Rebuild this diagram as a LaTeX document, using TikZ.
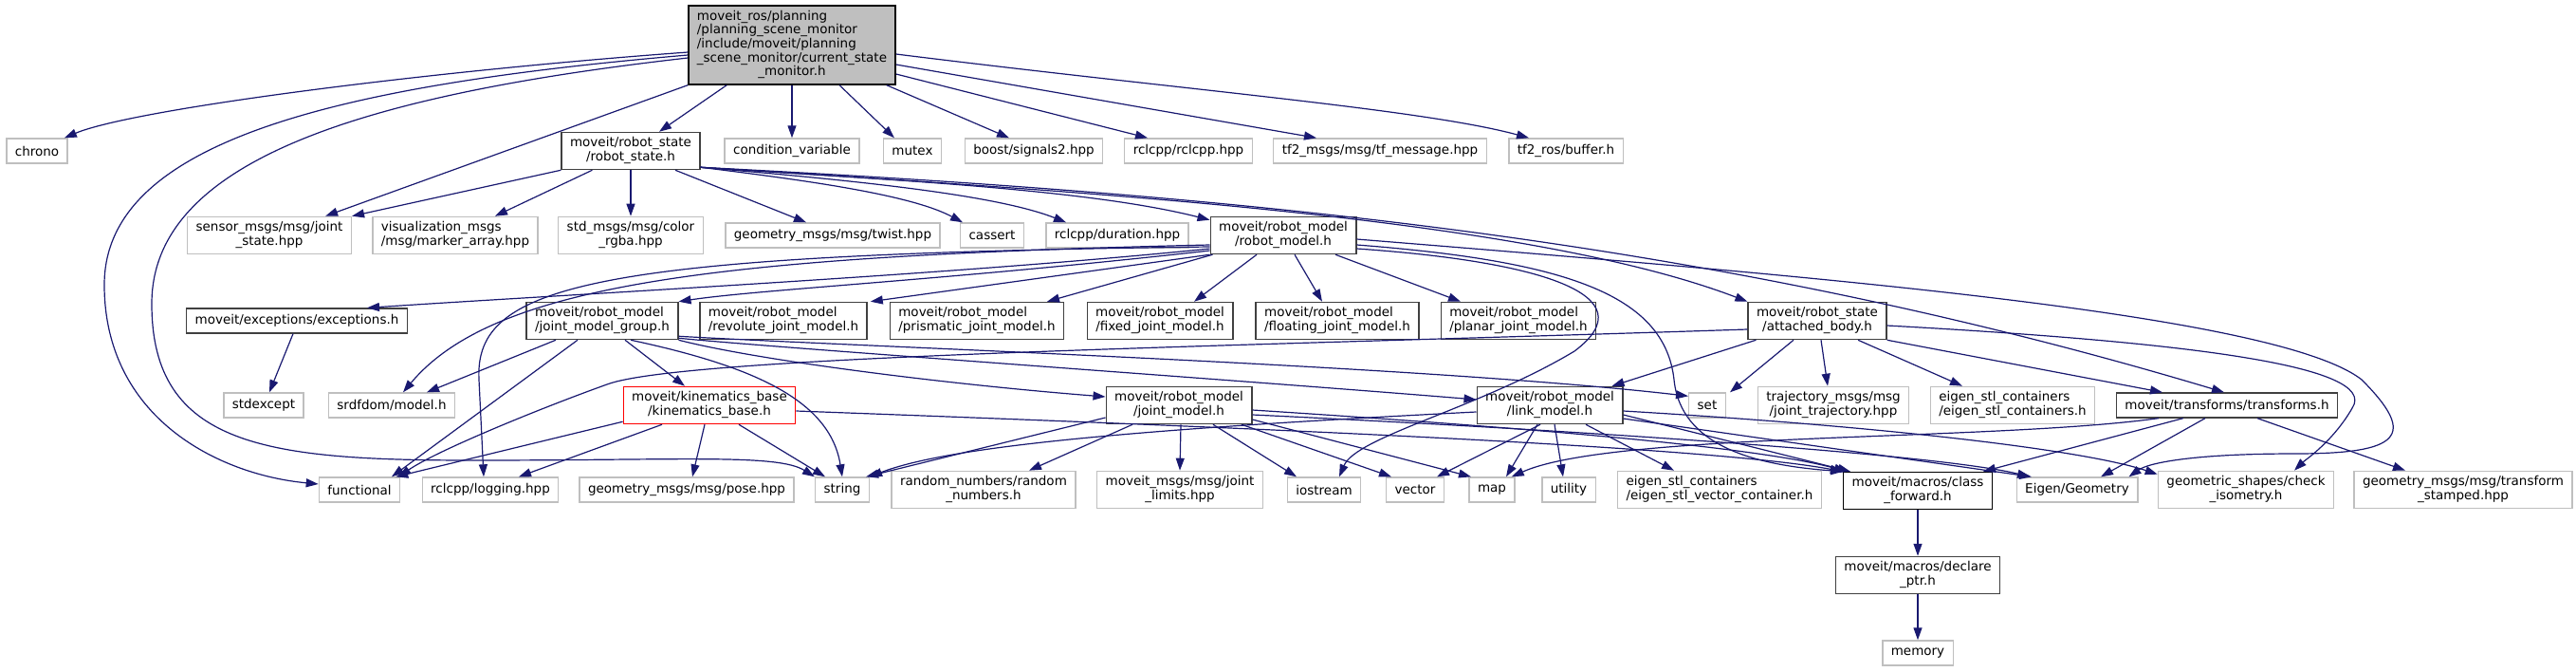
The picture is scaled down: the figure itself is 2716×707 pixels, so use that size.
\documentclass[tikz,border=0pt]{standalone}
\usepackage{fontspec}
\setmainfont{DejaVu Sans}
\usetikzlibrary{arrows.meta}
\definecolor{edgeblue}{RGB}{25,25,112}
\definecolor{extgray}{RGB}{191,191,191}
\definecolor{owngray}{RGB}{64,64,64}
\definecolor{curgray}{RGB}{191,191,191}
\definecolor{kinred}{RGB}{255,0,0}
% first lines left, last line centred (as graphviz \l)
\newcommand{\inclab}[2]{\begin{tabular}{@{}l@{}}#1\\\multicolumn{1}{@{}c@{}}{#2}\end{tabular}}

\begin{document}
\begin{tikzpicture}[x=1pt, y=-1pt,
  every node/.style={font=\fontsize{13.5}{14.5}\selectfont},
  ext/.style={draw=extgray, line width=1.4pt, fill=white, inner xsep=9pt, inner ysep=5pt, minimum height=26pt},
  own/.style={ext, draw=owngray, line width=1.3pt},
  cur/.style={own, draw=black, fill=curgray},
  kinbox/.style={ext, draw=kinred, line width=1.3pt},
  dep/.style={draw=edgeblue, line width=1.2pt, -{Triangle[length=13pt,width=9pt]}}]
 \useasboundingbox (0,0) rectangle (2716,707);

 % file itself
 \node[cur] (csm) at (835,47.5) {\inclab{moveit\_ros/planning\\/planning\_scene\_monitor\\/include/moveit/planning\\\_scene\_monitor/current\_state}{\_monitor.h}};

 % row 2
 \node[ext] (chrono) at (39,159) {chrono};
 \node[own] (rstate) at (665,159) {\inclab{moveit/robot\_state}{/robot\_state.h}};
 \node[ext] (condvar) at (835,159) {condition\_variable};
 \node[ext] (mutex) at (962,159) {mutex};
 \node[ext] (signals) at (1090,159) {boost/signals2.hpp};
 \node[ext] (rclcpp) at (1253,159) {rclcpp/rclcpp.hpp};
 \node[ext] (tfmsg) at (1455,159) {tf2\_msgs/msg/tf\_message.hpp};
 \node[ext] (tfbuf) at (1651,159) {tf2\_ros/buffer.h};

 % row 3
 \node[ext] (sensor) at (284,248) {\inclab{sensor\_msgs/msg/joint}{\_state.hpp}};
 \node[ext] (vis) at (480,248) {\inclab{visualization\_msgs}{/msg/marker\_array.hpp}};
 \node[ext] (rgba) at (665,248) {\inclab{std\_msgs/msg/color}{\_rgba.hpp}};
 \node[ext] (twist) at (878,248) {geometry\_msgs/msg/twist.hpp};
 \node[ext] (cassert) at (1046,248) {cassert};
 \node[ext] (duration) at (1178,248) {rclcpp/duration.hpp};
 \node[own] (rmodel) at (1353,248) {\inclab{moveit/robot\_model}{/robot\_model.h}};

 % row 4
 \node[own] (exc) at (313,338) {moveit/exceptions/exceptions.h};
 \node[own] (jmg) at (635,338) {\inclab{moveit/robot\_model}{/joint\_model\_group.h}};
 \node[own] (revolute) at (826,338) {\inclab{moveit/robot\_model}{/revolute\_joint\_model.h}};
 \node[own] (prismatic) at (1030,338) {\inclab{moveit/robot\_model}{/prismatic\_joint\_model.h}};
 \node[own] (fixed) at (1223,338) {\inclab{moveit/robot\_model}{/fixed\_joint\_model.h}};
 \node[own] (floating) at (1410,338) {\inclab{moveit/robot\_model}{/floating\_joint\_model.h}};
 \node[own] (planar) at (1601,338) {\inclab{moveit/robot\_model}{/planar\_joint\_model.h}};
 \node[own] (attached) at (1916,338) {\inclab{moveit/robot\_state}{/attached\_body.h}};

 % row 5
 \node[ext] (stdexcept) at (278,427) {stdexcept};
 \node[ext] (srdf) at (413,427) {srdfdom/model.h};
 \node[kinbox] (kin) at (748,427) {\inclab{moveit/kinematics\_base}{/kinematics\_base.h}};
 \node[own] (jmodel) at (1243,427) {\inclab{moveit/robot\_model}{/joint\_model.h}};
 \node[own] (lmodel) at (1634,427) {\inclab{moveit/robot\_model}{/link\_model.h}};
 \node[ext] (set) at (1800,427) {set};
 \node[ext] (traj) at (1933,427) {\inclab{trajectory\_msgs/msg}{/joint\_trajectory.hpp}};
 \node[ext] (eigstl) at (2122,427) {\inclab{eigen\_stl\_containers}{/eigen\_stl\_containers.h}};
 \node[own] (transforms) at (2348,427) {moveit/transforms/transforms.h};

 % row 6
 \node[ext] (functional) at (379,516) {functional};
 \node[ext] (logging) at (517,516) {rclcpp/logging.hpp};
 \node[ext] (pose) at (724,516) {geometry\_msgs/msg/pose.hpp};
 \node[ext] (string) at (888,516) {string};
 \node[ext] (random) at (1037,516) {\inclab{random\_numbers/random}{\_numbers.h}};
 \node[ext] (limits) at (1244,516) {\inclab{moveit\_msgs/msg/joint}{\_limits.hpp}};
 \node[ext] (iostream) at (1396,516) {iostream};
 \node[ext] (vector) at (1492,516) {vector};
 \node[ext] (map) at (1573,516) {map};
 \node[ext] (utility) at (1654,516) {utility};
 \node[ext] (eigvec) at (1813,516) {\inclab{eigen\_stl\_containers}{/eigen\_stl\_vector\_container.h}};
 \node[own, draw=black] (classfwd) at (2022,517) {\inclab{moveit/macros/class}{\_forward.h}};
 \node[ext] (eigen) at (2190,516) {Eigen/Geometry};
 \node[ext] (checkiso) at (2368,516) {\inclab{geometric\_shapes/check}{\_isometry.h}};
 \node[ext] (tfstamped) at (2597,516) {\inclab{geometry\_msgs/msg/transform}{\_stamped.hpp}};

 % rows 7, 8
 \node[own] (declptr) at (2022,606) {\inclab{moveit/macros/declare}{\_ptr.h}};
 \node[ext] (memory) at (2022,688) {memory};

 % current_state_monitor.h
 \draw[dep] (csm.west |- 0,55) .. controls (450,75) and (140,115) .. ([xshift=-4pt]chrono.north east);
 \draw[dep] (csm.west |- 0,58) .. controls (350,90) and (110,150) .. (110,300) .. controls (110,440) and (230,500) .. (functional.west |- 0,510);
 \draw[dep] (csm.west |- 0,61) .. controls (380,100) and (160,170) .. (160,320) .. controls (160,470) and (280,485) .. (500,485) .. controls (720,485) and (820,478) .. (string.north west);
 \draw[dep] (csm.south west) -- ([xshift=-28pt]sensor.north east);
 \draw[dep] ([xshift=41pt]csm.south west) -- ([xshift=30pt]rstate.north);
 \draw[dep] (csm.south) -- (condvar.north);
 \draw[dep] ([xshift=50pt]csm.south) -- ([xshift=-19pt]mutex.north);
 \draw[dep] ([xshift=-10pt]csm.south east) -- ([xshift=-26pt]signals.north);
 \draw[dep] (csm.east |- 0,78) -- ([xshift=-43pt]rclcpp.north);
 \draw[dep] (csm.east |- 0,68) -- ([xshift=-67pt]tfmsg.north);
 \draw[dep] (csm.east |- 0,57) .. controls (1250,95) and (1500,115) .. ([xshift=-39pt]tfbuf.north);

 % robot_state.h
 \draw[dep] (rstate.south west) -- (sensor.north east);
 \draw[dep] ([xshift=33pt]rstate.south west) -- ([xshift=42pt]vis.north);
 \draw[dep] (rstate.south) -- (rgba.north);
 \draw[dep] ([xshift=47pt]rstate.south) -- ([xshift=-28pt]twist.north);
 \draw[dep] ([yshift=3pt]rstate.south east) .. controls (850,190) and (960,205) .. ([xshift=-31pt]cassert.north);
 \draw[dep] ([yshift=3pt]rstate.south east) .. controls (900,190) and (1050,205) .. ([xshift=-54pt]duration.north);
 \draw[dep] ([yshift=3pt]rstate.south east) .. controls (950,190) and (1150,200) .. ([yshift=-4pt]rmodel.north west);
 \draw[dep] ([yshift=3pt]rstate.south east) .. controls (1100,200) and (1600,225) .. (attached.north west);
 \draw[dep] ([yshift=3pt]rstate.south east) .. controls (1300,205) and (1800,250) .. ([xshift=-3pt]transforms.north);

 % robot_model.h
 \draw[dep] (rmodel.west |- 0,262) .. controls (1000,290) and (600,310) .. ([xshift=74pt]exc.north);
 \draw[dep] (rmodel.west |- 0,264) .. controls (1000,295) and (800,305) .. (jmg.north east);
 \draw[dep] (rmodel.south west) -- ([xshift=3pt]revolute.north east);
 \draw[dep] ([xshift=3pt]rmodel.south west) -- ([xshift=74pt]prismatic.north);
 \draw[dep] ([xshift=-28pt]rmodel.south) -- ([xshift=36pt]fixed.north);
 \draw[dep] ([xshift=12pt]rmodel.south) -- ([xshift=-16pt]floating.north);
 \draw[dep] ([xshift=55pt]rmodel.south) -- ([xshift=-61pt]planar.north);
 \draw[dep] (rmodel.west |- 0,258) .. controls (750,270) and (520,300) .. ([xshift=12pt]srdf.north);
 \draw[dep] (rmodel.west |- 0,260) .. controls (620,268) and (500,300) .. (505,400) -- ([xshift=-7pt]logging.north);
 \draw[dep] (rmodel.east |- 0,262) .. controls (1620,275) and (1740,310) .. (1660,370) .. controls (1560,430) and (1430,460) .. ([xshift=16pt]iostream.north);
 \draw[dep] (rmodel.east |- 0,258) .. controls (1650,275) and (1755,310) .. (1765,400) .. controls (1772,470) and (1850,490) .. (classfwd.north west);
 \draw[dep] (rmodel.east |- 0,252) .. controls (1900,290) and (2400,330) .. (2490,400) .. controls (2550,460) and (2530,478) .. (2420,478) .. controls (2310,478) and (2265,488) .. ([xshift=-10pt]eigen.north east);

 \draw[dep] ([xshift=-4pt]exc.south) -- ([xshift=6pt]stdexcept.north);

 % joint_model_group.h
 \draw[dep] ([xshift=-49pt]jmg.south) -- ([xshift=37pt]srdf.north);
 \draw[dep] ([xshift=-26pt]jmg.south) -- ([xshift=34pt]functional.north);
 \draw[dep] ([xshift=24pt]jmg.south) -- ([xshift=-26pt]kin.north);
 \draw[dep] ([xshift=30pt]jmg.south) .. controls (790,385) and (875,420) .. (string.north);
 \draw[dep] (jmg.south east) .. controls (800,380) and (1000,405) .. (jmodel.west |- 0,418);
 \draw[dep] ([yshift=2pt]jmg.south east) .. controls (800,365) and (1300,400) .. (lmodel.west |- 0,421);
 \draw[dep] ([yshift=4pt]jmg.south east) .. controls (900,365) and (1500,385) .. ([yshift=-4pt]set.north west);

 % kinematics_base.h
 \draw[dep] ([yshift=3pt]kin.south west) -- ([xshift=-5pt]functional.north east);
 \draw[dep] ([xshift=-50pt]kin.south) -- ([xshift=30pt]logging.north);
 \draw[dep] ([xshift=-5pt]kin.south) -- ([xshift=6pt]pose.north);
 \draw[dep] ([xshift=31pt]kin.south) -- ([xshift=-18pt]string.north);
 \draw[dep] (kin.east |- 0,433) .. controls (1300,450) and (1800,470) .. (classfwd.north west);

 % joint_model.h
 \draw[dep] (jmodel.west |- 0,440) -- ([xshift=-4pt]string.north east);
 \draw[dep] ([xshift=-49pt]jmodel.south) -- ([xshift=48pt]random.north);
 \draw[dep] ([xshift=2pt]jmodel.south) -- (limits.north);
 \draw[dep] ([xshift=36pt]jmodel.south) -- ([xshift=-29pt]iostream.north);
 \draw[dep] ([xshift=66pt]jmodel.south) -- ([xshift=-25pt]vector.north);
 \draw[dep] (jmodel.east |- 0,442) -- ([xshift=-22pt]map.north);
 \draw[dep] (jmodel.east |- 0,432) .. controls (1600,450) and (1850,470) .. ([xshift=4pt]classfwd.north west);
 \draw[dep] (jmodel.east |- 0,437) .. controls (1700,455) and (2050,480) .. ([xshift=-50pt]eigen.north);

 % link_model.h
 \draw[dep] (lmodel.west |- 0,434) .. controls (1200,452) and (1000,470) .. (string.north east);
 \draw[dep] ([xshift=-10pt]lmodel.south) -- ([xshift=23pt]vector.north);
 \draw[dep] ([xshift=-13pt]lmodel.south) -- ([xshift=15pt]map.north);
 \draw[dep] ([xshift=5pt]lmodel.south) -- ([xshift=-6pt]utility.north);
 \draw[dep] ([xshift=38pt]lmodel.south) -- ([xshift=-48pt]eigvec.north);
 \draw[dep] (lmodel.east |- 0,437) -- ([xshift=8pt]classfwd.north west);
 \draw[dep] (lmodel.east |- 0,441) -- ([xshift=-48pt]eigen.north);
 \draw[dep] (lmodel.east |- 0,433) .. controls (2000,450) and (2200,475) .. ([yshift=-4pt]checkiso.north west);

 % attached_body.h
 \draw[dep] ([xshift=9pt]attached.south west) -- ([xshift=-12pt]lmodel.north east);
 \draw[dep] (attached.west |- 0,347) .. controls (1300,365) and (720,375) .. (640,405) .. controls (570,430) and (460,475) .. ([xshift=-2pt]functional.north east);
 \draw[dep] ([xshift=-25pt]attached.south) -- ([xshift=24pt]set.north);
 \draw[dep] ([xshift=4pt]attached.south) -- ([xshift=-6pt]traj.north);
 \draw[dep] ([xshift=43pt]attached.south) -- ([xshift=-53pt]eigstl.north);
 \draw[dep] (attached.south east) -- ([xshift=-68pt]transforms.north);
 \draw[dep] (attached.east |- 0,343) .. controls (2300,360) and (2510,385) .. (2480,430) .. controls (2460,465) and (2430,485) .. ([xshift=51pt]checkiso.north);

 % transforms.h
 \draw[dep] ([xshift=45pt]transforms.south west) .. controls (2100,465) and (1700,455) .. ([xshift=-4pt]map.north east);
 \draw[dep] ([xshift=71pt]transforms.south west) -- ([xshift=-10pt]classfwd.north east);
 \draw[dep] ([xshift=-23pt]transforms.south) -- ([xshift=25pt]eigen.north);
 \draw[dep] ([xshift=32pt]transforms.south) -- ([xshift=-61pt]tfstamped.north);

 % macros
 \draw[dep] (classfwd) -- (declptr);
 \draw[dep] (declptr) -- (memory);
\end{tikzpicture}
\end{document}
